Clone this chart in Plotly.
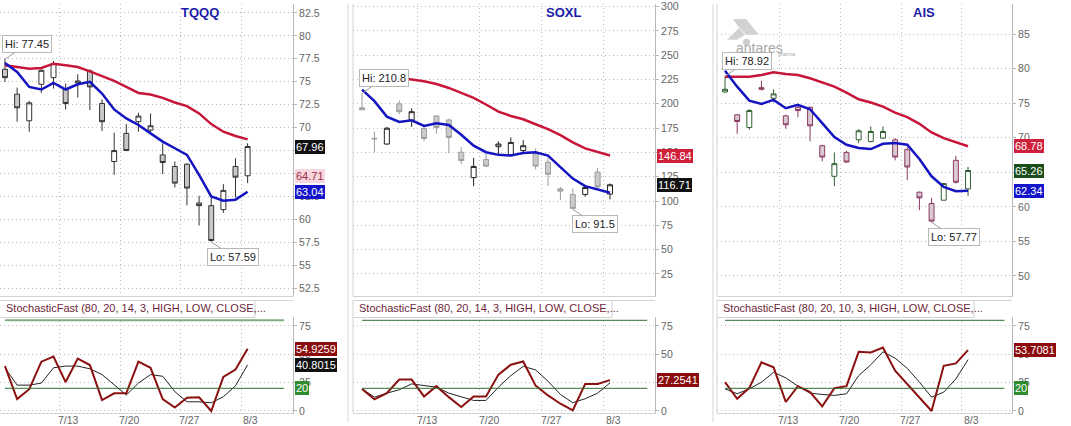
import plotly.graph_objects as go

# trading days shown on every panel
dates = ['7/6', '7/7', '7/8', '7/9', '7/10', '7/13', '7/14', '7/15', '7/16', '7/17',
         '7/20', '7/21', '7/22', '7/23', '7/24', '7/27', '7/28', '7/29', '7/30', '7/31', '8/3']
week_starts = ['7/13', '7/20', '7/27', '8/3']

# TQQQ
tqqq_open = [76.36, 73.65, 70.76, 74.73, 75.45, 74.26, 75.09, 76.18, 72.64, 66.33, 69.39,
             70.66, 69.75, 67.05, 65.79, 66.04, 61.82, 61.53, 61.10, 65.79, 64.78]
tqqq_high = [77.45, 74.37, 72.93, 76.36, 77.26, 74.81, 75.82, 76.36, 73.07, 69.47, 70.40,
             71.63, 71.56, 68.31, 66.33, 66.15, 62.61, 62.47, 63.87, 66.69, 68.31]
tqqq_low = [74.98, 70.66, 69.57, 73.80, 74.26, 71.99, 73.29, 71.92, 69.65, 64.88, 67.52,
            69.57, 69.47, 64.96, 63.51, 61.57, 59.37, 57.59, 60.74, 62.43, 63.98]
tqqq_close = [75.45, 72.17, 72.71, 76.25, 76.97, 72.64, 74.88, 74.44, 70.66, 67.52, 67.52,
              71.27, 70.22, 66.22, 63.98, 63.44, 61.53, 57.74, 63.19, 64.63, 67.96]
tqqq_slow = [76.79, 76.61, 76.43, 76.50, 76.97, 76.79, 76.61, 76.14, 75.60, 75.09, 74.44,
             73.79, 73.61, 73.25, 72.75, 72.35, 71.56, 70.40, 69.57, 69.11, 68.74]
tqqq_fast = [77.04, 76.07, 74.44, 74.16, 74.88, 74.16, 74.73, 74.99, 73.72, 71.99, 71.02,
             70.30, 69.39, 68.49, 67.77, 67.05, 64.88, 62.54, 62.07, 62.18, 63.04]
tqqq_k = [39.6, 10.5, 19.2, 43.5, 48.0, 25.5, 46.2, 40.5, 9.6, 15.6, 15.6,
          43.5, 38.1, 10.5, 3.0, 11.7, 12.0, 0.0, 30.0, 36.6, 54.9259]
tqqq_d = [38.1, 22.8, 22.8, 24.6, 38.1, 39.6, 39.6, 37.2, 32.1, 23.1, 14.1,
          24.6, 32.1, 30.6, 17.1, 8.1, 8.1, 7.2, 12.6, 22.2, 40.8015]
tqqq_marker = 64.71

# SOXL
soxl_open = [195.9, 164.4, 158.6, 200.0, 183.1, 174.6, 187.5, 183.4, 150.2, 124.1, 142.7,
             155.9, 147.5, 151.9, 148.5, 140.0, 112.5, 106.8, 106.8, 129.8, 107.1]
soxl_high = [210.8, 171.5, 176.3, 203.4, 195.3, 177.3, 188.1, 184.7, 155.3, 144.4, 148.5,
             161.4, 165.4, 162.7, 154.2, 144.4, 114.6, 112.9, 115.3, 134.2, 118.0]
soxl_low = [193.9, 150.2, 158.0, 189.2, 176.3, 161.4, 169.5, 149.2, 137.6, 115.3, 134.9,
            148.5, 146.8, 148.5, 132.5, 115.3, 101.0, 91.5, 104.4, 112.9, 101.7]
soxl_close = [193.9, 164.0, 174.9, 191.9, 191.9, 164.4, 175.6, 165.4, 141.7, 135.6, 135.9,
              158.6, 160.3, 156.9, 135.9, 127.5, 110.2, 92.5, 113.9, 114.6, 116.71]
soxl_slow = [229.2, 228.3, 227.6, 226.9, 225.1, 223.1, 220.3, 216.3, 211.2, 206.1, 199.3,
             191.9, 187.5, 184.1, 179.0, 173.9, 167.8, 160.3, 154.2, 150.8, 146.84]
soxl_fast = [214.6, 202.7, 186.8, 181.4, 183.1, 177.3, 180.0, 178.3, 168.1, 156.9, 150.2,
             147.5, 146.8, 149.5, 150.2, 146.8, 134.9, 123.1, 115.3, 111.9, 108.5]
soxl_k = [19.5, 10.2, 15.7, 27.7, 27.7, 12.8, 21.9, 12.2, 3.5, 12.8, 12.8,
          32.1, 40.8, 43.7, 22.4, 13.7, 6.4, 0.6, 23.9, 23.9, 27.2541]
soxl_d = [19.5, 12.2, 15.7, 18.7, 23.9, 22.4, 21.0, 15.7, 12.2, 9.3, 9.3,
          21.0, 31.2, 39.4, 36.2, 26.2, 14.6, 7.3, 10.8, 15.7, 24.8]

# AIS
ais_open = [76.63, 73.32, 71.49, 77.26, 75.72, 73.17, 74.42, 74.42, 68.85, 64.42, 67.88,
            69.71, 69.47, 69.95, 69.71, 68.27, 62.12, 60.48, 60.96, 66.73, 62.60]
ais_high = [78.92, 73.41, 74.13, 78.27, 77.02, 73.32, 74.76, 74.52, 68.99, 67.88, 68.13,
            71.25, 71.63, 71.63, 69.95, 68.65, 62.21, 61.30, 63.46, 67.40, 65.77]
ais_low = [76.54, 70.58, 71.15, 76.83, 75.14, 71.30, 72.98, 69.47, 66.59, 62.98, 66.35,
           69.23, 69.33, 69.81, 66.73, 63.85, 59.52, 57.77, 60.96, 63.37, 61.54]
ais_close = [77.02, 72.36, 73.94, 77.02, 76.35, 71.88, 73.94, 71.73, 67.21, 66.25, 66.49,
             71.01, 70.91, 70.91, 67.21, 65.77, 61.30, 57.93, 63.37, 63.56, 65.26]
ais_slow = [78.85, 78.85, 78.85, 79.09, 79.47, 79.23, 79.09, 78.61, 77.98, 77.40, 76.54,
            75.58, 75.10, 74.52, 73.65, 72.98, 72.02, 70.77, 69.95, 69.33, 68.78]
ais_fast = [79.71, 77.40, 75.38, 74.90, 75.48, 74.28, 74.76, 74.13, 72.12, 70.10, 68.99,
            68.51, 68.37, 69.13, 69.23, 68.99, 66.92, 64.42, 62.88, 62.26, 62.34]
ais_k = [25.4, 10.8, 20.4, 42.9, 38.5, 7.9, 21.9, 16.6, 4.1, 20.1, 21.9,
         52.2, 51.6, 56.0, 35.6, 23.9, 12.2, 0.0, 39.9, 42.0, 53.7081]
ais_d = [19.5, 15.2, 19.5, 25.4, 34.1, 29.2, 21.9, 15.7, 14.6, 13.7, 15.2,
         31.2, 40.8, 52.2, 46.6, 37.6, 25.4, 12.2, 16.6, 28.3, 45.2]

overbought, oversold = 80, 20

W, H = 1071, 426
FONT = 'Liberation Sans, Arial, sans-serif'
RED, BLUE = '#c8163a', '#1414c0'

# the captured page comes out slightly squeezed vertically; map target pixels onto paper
YSCALE = 0.986


def px(x):
    return x / W


def py(y):
    return 1 - y / (YSCALE * H)


panels = [
    dict(name='TQQQ', o=tqqq_open, h=tqqq_high, l=tqqq_low, c=tqqq_close,
         slow=tqqq_slow, fast=tqqq_fast, k=tqqq_k, d=tqqq_d, period=14,
         left=0, right=293, cell=255, title_x=200, xr=[-0.41, 23.74],
         yr=[51.75, 83.46], tick0=52.5, dtick=2.5,
         inc=('white', '#333333'), dec=('#c8c8c8', '#333333'), ob_line=('#7fae7f', 2),
         plabels=[(tqqq_close[-1], '#111111', 'white'), (tqqq_marker, '#f7d6dd', '#9a2c48'),
                  (tqqq_fast[-1], '#1414cc', 'white')],
         slabels=[(tqqq_k[-1], '#8b0d0d', 'white', '{:.4f}'), (tqqq_d[-1], '#111111', 'white', '{:.4f}'),
                  (oversold, '#2e8b2e', 'white', '{}')]),
    dict(name='SOXL', o=soxl_open, h=soxl_high, l=soxl_low, c=soxl_close,
         slow=soxl_slow, fast=soxl_fast, k=soxl_k, d=soxl_d, period=14,
         left=353, right=655, cell=612, title_x=563, xr=[-0.73, 23.63],
         yr=[2.76, 302.66], tick0=25, dtick=25,
         inc=('white', '#222222'), dec=('#cbcbcb', '#9c9c9c'), ob_line=('#2f6f2f', 1),
         plabels=[(soxl_slow[-1], '#d0203c', 'white'), (soxl_close[-1], '#111111', 'white')],
         slabels=[(soxl_k[-1], '#8b0d0d', 'white', '{:.4f}')]),
    dict(name='AIS', o=ais_open, h=ais_high, l=ais_low, c=ais_close,
         slow=ais_slow, fast=ais_fast, k=ais_k, d=ais_d, period=10,
         left=717, right=1012, cell=974, title_x=924, xr=[-0.66, 23.62],
         yr=[47.15, 89.37], tick0=50, dtick=5,
         inc=('white', '#2f5f2f'), dec=('#dacad4', '#8b3a62'), ob_line=('#2f6f2f', 1),
         plabels=[(ais_slow[-1], '#d0203c', 'white'), (ais_close[-1], '#1b4d1b', 'white'),
                  (ais_fast[-1], '#1414cc', 'white')],
         slabels=[(ais_k[-1], '#8b0d0d', 'white', '{:.4f}'), (oversold, '#2e8b2e', 'white', '{}')]),
]

PRICE_TOP, PRICE_BOT = 0, 293
HEAD_TOP, STOCH_TOP, STOCH_BOT = 298, 315, 411

fig = go.Figure()
shapes, annotations, axes = [], [], {}
xs = list(range(len(dates)))
tickvals = [dates.index(d) - 0.5 for d in week_starts]
grid = dict(showgrid=True, gridcolor='#bdbdbd', griddash='1px,3px', gridwidth=1, zeroline=False)
tickfont = dict(family=FONT, size=10.5, color='#666666')

for i, p in enumerate(panels):
    n1, n2 = 2 * i + 1, 2 * i + 2
    xp = 'x' if n1 == 1 else f'x{n1}'
    yp = 'y' if n1 == 1 else f'y{n1}'
    xs_, ys_ = f'x{n2}', f'y{n2}'
    dom = [px(p['left']), px(p['right'])]

    fig.add_trace(go.Candlestick(
        x=xs, open=p['o'], high=p['h'], low=p['l'], close=p['c'],
        increasing=dict(fillcolor=p['inc'][0], line=dict(color=p['inc'][1], width=1)),
        decreasing=dict(fillcolor=p['dec'][0], line=dict(color=p['dec'][1], width=1)),
        whiskerwidth=0, showlegend=False, hoverinfo='skip', xaxis=xp, yaxis=yp))
    fig.add_trace(go.Scatter(x=xs, y=p['slow'], mode='lines', line=dict(color=RED, width=2.5),
                             showlegend=False, hoverinfo='skip', xaxis=xp, yaxis=yp))
    fig.add_trace(go.Scatter(x=xs, y=p['fast'], mode='lines', line=dict(color=BLUE, width=2.5),
                             showlegend=False, hoverinfo='skip', xaxis=xp, yaxis=yp))
    fig.add_trace(go.Scatter(x=xs, y=p['d'], mode='lines', line=dict(color='#222222', width=1),
                             showlegend=False, hoverinfo='skip', xaxis=xs_, yaxis=ys_))
    fig.add_trace(go.Scatter(x=xs, y=p['k'], mode='lines', line=dict(color='#8b1010', width=2),
                             showlegend=False, hoverinfo='skip', xaxis=xs_, yaxis=ys_))

    axes['xaxis' if n1 == 1 else f'xaxis{n1}'] = dict(
        domain=dom, range=p['xr'], anchor=yp, tickvals=tickvals, showticklabels=False,
        showline=True, linecolor='#d2d2d2', rangeslider=dict(visible=False), **grid)
    axes['yaxis' if n1 == 1 else f'yaxis{n1}'] = dict(
        domain=[py(PRICE_BOT), py(PRICE_TOP)], range=p['yr'], anchor=xp, side='right',
        tick0=p['tick0'], dtick=p['dtick'], showline=True, linecolor='#b8b8b8',
        ticks='outside', ticklen=3, tickcolor='#b8b8b8', tickfont=tickfont,
        ticklabeloverflow='allow', **grid)
    axes[f'xaxis{n2}'] = dict(
        domain=dom, range=p['xr'], anchor=ys_, tickvals=tickvals, showticklabels=False,
        ticks='', showline=True, linecolor='#d2d2d2', **grid)
    axes[f'yaxis{n2}'] = dict(
        domain=[py(STOCH_BOT), py(STOCH_TOP)], range=[-1.8, 82.5], anchor=xs_, side='right',
        tickvals=[0, 25, 50, 75], showline=True, linecolor='#b8b8b8',
        ticks='outside', ticklen=3, tickcolor='#b8b8b8', tickfont=tickfont,
        ticklabeloverflow='allow', **grid)

    # week labels under the stochastic pane
    for d in week_starts:
        annotations.append(dict(
            xref=xs_, yref='paper', x=dates.index(d), y=py(418), xshift=3,
            xanchor='center', yanchor='middle', showarrow=False, text=d,
            font=tickfont))

    # overbought / oversold levels
    shapes.append(dict(type='line', xref=xs_, yref=ys_, x0=0, x1=len(dates) + 2,
                       y0=overbought, y1=overbought,
                       line=dict(color=p['ob_line'][0], width=p['ob_line'][1])))
    shapes.append(dict(type='line', xref=xs_, yref=ys_, x0=0, x1=len(dates) + 2,
                       y0=oversold, y1=oversold, line=dict(color='#2f6f2f', width=1)))

    # borders
    border = dict(color='#d2d2d2', width=1)
    if p['left'] > 0:
        shapes.append(dict(type='line', xref='paper', yref='paper', x0=dom[0], x1=dom[0],
                           y0=py(PRICE_BOT), y1=1, line=border))
        shapes.append(dict(type='line', xref='paper', yref='paper', x0=dom[0], x1=dom[0],
                           y0=py(STOCH_BOT), y1=py(HEAD_TOP), line=border))
    shapes.append(dict(type='line', xref='paper', yref='paper', x0=dom[0], x1=dom[1],
                       y0=py(HEAD_TOP), y1=py(HEAD_TOP), line=border))
    shapes.append(dict(type='line', xref='paper', yref='paper', x0=dom[0], x1=px(p['cell']),
                       y0=py(STOCH_TOP), y1=py(STOCH_TOP), line=border))
    shapes.append(dict(type='line', xref='paper', yref='paper', x0=px(p['cell']), x1=px(p['cell']),
                       y0=py(STOCH_TOP), y1=py(HEAD_TOP), line=border))

    annotations.append(dict(
        xref='paper', yref='paper', x=px(p['left'] + 4), y=py(305.5),
        xanchor='left', yanchor='middle', showarrow=False,
        text=f"StochasticFast ({overbought}, {oversold}, {p['period']}, 3, HIGH, LOW, CLOSE,...",
        font=dict(family=FONT, size=11, color='#6e1f3a')))

    annotations.append(dict(
        xref='paper', yref='paper', x=px(p['title_x']), y=py(8.5), xanchor='center', yanchor='middle',
        showarrow=False, text=f"<b>{p['name']}</b>", font=dict(family=FONT, size=13, color='#1c1ca8')))

    # hi / lo callouts
    hi, lo = max(p['h']), min(p['l'])
    for val, idx, ay in [(hi, p['h'].index(hi), -15), (lo, p['l'].index(lo), 15)]:
        label = 'Hi' if ay < 0 else 'Lo'
        annotations.append(dict(
            xref=xp, yref=yp, x=idx, y=val, ax=22, ay=ay, text=f'{label}: {val:g}',
            showarrow=True, arrowhead=0, arrowwidth=1, arrowcolor='#9a9a9a',
            bgcolor='white', bordercolor='#b8b8b8', borderwidth=1, borderpad=2,
            font=dict(family=FONT, size=11, color='#222222')))

    # last value tags on the right axis
    for val, bg, fg in p['plabels']:
        annotations.append(dict(
            xref='paper', yref=yp, x=px(p['right'] + 2), y=val, xanchor='left', yanchor='middle',
            showarrow=False, text=f'{val:.2f}', bgcolor=bg, bordercolor=bg, borderwidth=1,
            borderpad=0, font=dict(family=FONT, size=11, color=fg)))
    for val, bg, fg, fmt in p['slabels']:
        annotations.append(dict(
            xref='paper', yref=ys_, x=px(p['right'] + 2), y=val, xanchor='left', yanchor='middle',
            showarrow=False, text=fmt.format(val), bgcolor=bg, bordercolor=bg, borderwidth=1,
            borderpad=0, font=dict(family=FONT, size=11, color=fg)))

# panel separators
for sx in [348, 713]:
    shapes.append(dict(type='line', xref='paper', yref='paper', x0=px(sx), x1=px(sx), y0=0, y1=1,
                       line=dict(color='#d6d6d6', width=1)))

# antares watermark
for pts in [[(733, 15), (746, 15), (759, 31), (746, 31), (737, 21)],
            [(727, 36), (739, 24), (745, 31), (737, 36)]]:
    path = 'M ' + ' L '.join(f'{px(a)},{py(b)}' for a, b in pts) + ' Z'
    shapes.append(dict(type='path', xref='paper', yref='paper', path=path,
                       fillcolor='#d2d2d2', line=dict(width=0)))
shapes.append(dict(type='circle', xref='paper', yref='paper', x0=px(743), x1=px(750),
                   y0=py(42), y1=py(35), fillcolor='#cdcdcd', line=dict(width=0)))
annotations.append(dict(xref='paper', yref='paper', x=px(785), y=py(34), showarrow=False,
                        text='antares', font=dict(family=FONT, size=14, color='#a8a8a8')))
annotations.append(dict(xref='paper', yref='paper', x=px(797), y=py(45), showarrow=False,
                        text='pharma', font=dict(family=FONT, size=5, color='#a8a8a8')))

fig.update_layout(
    width=W, height=H, margin=dict(l=0, r=0, t=0, b=0),
    paper_bgcolor='white', plot_bgcolor='white', showlegend=False,
    boxgap=0.42, boxgroupgap=0.3,
    shapes=shapes, annotations=annotations, **axes)

# the page's default body margin would push the figure 8px right and down
fig.write_html('out.html', config={'displayModeBar': False},
               post_script="document.body.style.margin = '0';")
